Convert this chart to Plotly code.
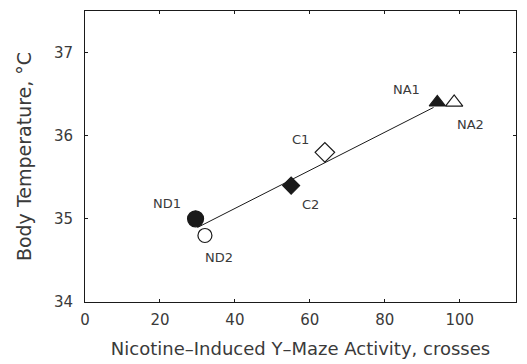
import numpy as np
import plotly.graph_objects as go

groups = ["ND1", "ND2", "C2", "C1", "NA1", "NA2"]
activity = [29.5, 32, 55, 64, 94, 98.5]
temperature = [35.0, 34.8, 35.4, 35.8, 36.4, 36.4]
symbols = ["circle", "circle-open", "diamond", "diamond-open", "triangle-up", "triangle-up-open"]
sizes = [16, 14, 13, 15, 14, 15]
label_x = [21.9, 35.7, 60.3, 57.6, 85.9, 102.9]
label_y = [35.19, 34.53, 35.17, 35.96, 36.56, 36.13]
fit_x = [30, 93]
xticks = [0, 20, 40, 60, 80, 100]
yticks = [34, 35, 36, 37]

ink = "#1a1a1a"
txt = "#3a3a3a"
slope, intercept = np.polyfit(activity, temperature, 1)
fit_y = [slope * v + intercept for v in fit_x]

fig = go.Figure()
fig.add_trace(go.Scatter(x=fit_x, y=fit_y, mode="lines",
                         line=dict(color=ink, width=1), showlegend=False))
for g, xv, yv, s, sz in zip(groups, activity, temperature, symbols, sizes):
    fig.add_trace(go.Scatter(x=[xv], y=[yv], mode="markers", showlegend=False,
                             marker=dict(symbol=s, size=sz, color=ink,
                                         line=dict(color=ink, width=1.2))))
for g, lx, ly in zip(groups, label_x, label_y):
    fig.add_annotation(x=lx, y=ly, text=g, showarrow=False,
                       font=dict(family="DejaVu Sans", size=13, color=txt))

axis_common = dict(showline=True, linecolor=ink, linewidth=1, mirror="ticks",
                   ticks="inside", ticklen=3, tickcolor=ink, showgrid=False,
                   zeroline=False, automargin=False,
                   tickfont=dict(family="DejaVu Sans", size=15, color=txt))
fig.update_xaxes(range=[0, 115], tickvals=xticks, ticklabelstandoff=4,
                 title=dict(text="Nicotine\u2013Induced Y\u2013Maze Activity, crosses",
                            font=dict(family="DejaVu Sans", size=18, color=txt), standoff=14),
                 **axis_common)
fig.update_yaxes(range=[34, 37.5], tickvals=yticks, ticklabelstandoff=8,
                 title=dict(text="Body Temperature, \u00b0C",
                            font=dict(family="DejaVu Sans", size=19, color=txt), standoff=17),
                 **axis_common)
fig.update_layout(width=527, height=364, margin=dict(l=85, r=11, t=11, b=62),
                  plot_bgcolor="white", paper_bgcolor="white")
fig.write_html("out.html")
